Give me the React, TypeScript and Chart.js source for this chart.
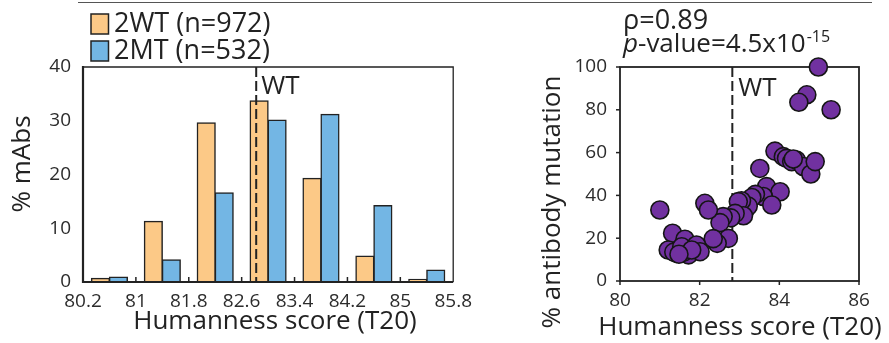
import React, { useEffect, useRef } from "react";
import { Chart, registerables } from "chart.js";

Chart.register(...registerables);

const FONT = "'Open Sans', 'Noto Sans', 'DejaVu Sans', sans-serif";
const ORANGE = "#FCC987";
const BLUE = "#73B6E4";
const PURPLE = "#7131A0";
const INK = "#222222";
const TICK_INK = "#2c2c2c";

// ---- Histogram data (left panel) ----
const binEdges = [80.2, 81, 81.8, 82.6, 83.4, 84.2, 85, 85.8];
const binCenters = [80.6, 81.4, 82.2, 83.0, 83.8, 84.6, 85.4];
const seriesLabels = ["2WT (n=972)", "2MT (n=532)"];
const wtPct = [0.7, 11.3, 29.6, 33.7, 19.3, 4.8, 0.5];
const mtPct = [0.9, 4.1, 16.6, 30.1, 31.2, 14.2, 2.2];
const histYTicks = [0, 10, 20, 30, 40];
const wtScore = 82.82;
const wtLabel = "WT";
const histXTitle = "Humanness score (T20)";
const histYTitle = "% mAbs";

// ---- Scatter data (right panel) ----
const scatterX = [
  84.98, 84.69, 84.49, 85.3, 83.89, 84.1, 84.18, 84.31, 84.43, 84.6, 84.79, 84.9,
  84.35, 83.51, 83.68, 84.02, 83.6, 83.81, 83.4, 83.31, 83.14, 83.22, 83.05, 82.97,
  83.1, 82.89, 82.78, 82.59, 82.51, 82.72, 82.44, 82.34, 82.13, 82.22, 81.0, 81.32,
  81.21, 81.42, 81.35, 81.63, 81.72, 81.6, 81.55, 81.92, 82.01, 81.8, 81.48,
];
const scatterY = [
  100, 87, 83.5, 80, 60.7, 58.1, 57.3, 55.8, 56.5, 53.5, 50, 55.8,
  57, 52.6, 44.1, 41.7, 39.5, 35.5, 40.5, 39, 33.2, 35, 37.5, 37.1,
  30.5, 31.6, 29.5, 30.1, 27.3, 19.9, 17.6, 19.8, 36.3, 33.2, 33.2, 22.3,
  14.5, 12.9, 13.5, 19.5, 12.2, 13.5, 16, 16.8, 13.7, 14.5, 12.5,
];
const scatterXTicks = [80, 82, 84, 86];
const scatterYTicks = [0, 20, 40, 60, 80, 100];
const rhoText = "ρ=0.89";
const pItalic = "p";
const pRest = "-value=4.5x10";
const pSup = "-15";
const scatterXTitle = "Humanness score (T20)";
const scatterYTitle = "% antibody mutation";

const tickFont = { family: FONT, size: 19 };

function HistChart() {
  const ref = useRef<HTMLCanvasElement | null>(null);
  useEffect(() => {
    if (!ref.current) return;
    const deco = {
      id: "histDeco",
      afterDraw(chart: any) {
        const { ctx, chartArea: a, scales } = chart;
        const xs = scales.x;
        ctx.save();
        ctx.strokeStyle = INK;
        ctx.lineWidth = 1.3;
        ctx.beginPath();
        ctx.moveTo(a.left, a.top);
        ctx.lineTo(a.right, a.top);
        ctx.lineTo(a.right, a.bottom);
        ctx.stroke();
        ctx.lineWidth = 2.2;
        ctx.beginPath();
        ctx.moveTo(a.left, a.top - 1);
        ctx.lineTo(a.left, a.bottom);
        ctx.lineTo(a.right, a.bottom);
        ctx.stroke();
        ctx.lineWidth = 1.5;
        binEdges.slice(1, -1).forEach((v) => {
          const px = xs.getPixelForValue(v);
          ctx.beginPath();
          ctx.moveTo(px, a.bottom);
          ctx.lineTo(px, a.bottom - 5);
          ctx.stroke();
        });
        const wx = xs.getPixelForValue(wtScore);
        ctx.setLineDash([10, 4]);
        ctx.lineWidth = 2;
        ctx.beginPath();
        ctx.moveTo(wx, a.top);
        ctx.lineTo(wx, a.bottom);
        ctx.stroke();
        ctx.setLineDash([]);
        ctx.fillStyle = INK;
        ctx.font = `26px ${FONT}`;
        ctx.textBaseline = "middle";
        ctx.textAlign = "left";
        ctx.fillText(wtLabel, wx + 5, a.top + 20);
        const colors = [ORANGE, BLUE];
        const rowsY = [24, 51];
        seriesLabels.forEach((lab, i) => {
          ctx.fillStyle = colors[i];
          ctx.fillRect(91, rowsY[i] - 10, 17.5, 20);
          ctx.strokeStyle = INK;
          ctx.lineWidth = 1.5;
          ctx.strokeRect(91, rowsY[i] - 10, 17.5, 20);
          ctx.fillStyle = INK;
          ctx.font = `27px ${FONT}`;
          ctx.textAlign = "left";
          ctx.textBaseline = "middle";
          ctx.fillText(lab, 114, rowsY[i]);
        });
        ctx.fillStyle = INK;
        ctx.font = `26px ${FONT}`;
        ctx.textAlign = "center";
        ctx.textBaseline = "middle";
        ctx.fillText(histXTitle, 275, 322);
        ctx.save();
        ctx.translate(23, 164);
        ctx.rotate(-Math.PI / 2);
        ctx.fillText(histYTitle, 0, 0);
        ctx.restore();
        ctx.restore();
      },
    };
    const chart = new Chart(ref.current, {
      type: "bar",
      data: {
        datasets: [
          {
            label: seriesLabels[0],
            data: binCenters.map((x, i) => ({ x, y: wtPct[i] })),
            backgroundColor: ORANGE,
            borderColor: INK,
            borderWidth: 1.5,
            borderSkipped: false,
            inflateAmount: 0.6,
            categoryPercentage: 0.68,
            barPercentage: 1,
          },
          {
            label: seriesLabels[1],
            data: binCenters.map((x, i) => ({ x, y: mtPct[i] })),
            backgroundColor: BLUE,
            borderColor: INK,
            borderWidth: 1.5,
            borderSkipped: false,
            inflateAmount: 0.6,
            categoryPercentage: 0.68,
            barPercentage: 1,
          },
        ],
      } as any,
      options: {
        animation: false,
        responsive: false,
        maintainAspectRatio: false,
        layout: { padding: { left: 0, right: 20, top: 67, bottom: 0 } },
        plugins: { legend: { display: false }, tooltip: { enabled: false } },
        scales: {
          x: {
            type: "linear",
            min: binEdges[0],
            max: binEdges[binEdges.length - 1],
            offset: false,
            afterBuildTicks: (s: any) => {
              s.ticks = binEdges.map((v) => ({ value: v }));
            },
            afterFit: (s: any) => {
              s.height = 61;
            },
            grid: { display: false, drawTicks: false, offset: false },
            border: { display: false },
            ticks: {
              padding: 8,
              font: tickFont,
              color: TICK_INK,
              autoSkip: false,
              maxRotation: 0,
              callback: (v: any) => `${v}`,
            },
          },
          y: {
            min: 0,
            max: 40,
            afterBuildTicks: (s: any) => {
              s.ticks = histYTicks.map((v) => ({ value: v }));
            },
            afterFit: (s: any) => {
              s.width = 83;
            },
            grid: { display: false, drawTicks: false },
            border: { display: false },
            ticks: { padding: 12, font: tickFont, color: TICK_INK },
          },
        },
      } as any,
      plugins: [deco],
    });
    return () => chart.destroy();
  }, []);
  return (
    <canvas
      ref={ref}
      width={480}
      height={343}
      style={{ position: "absolute", left: 0, top: 0, width: 480, height: 343 }}
    />
  );
}

function ScatterChart() {
  const ref = useRef<HTMLCanvasElement | null>(null);
  useEffect(() => {
    if (!ref.current) return;
    const deco = {
      id: "scatterDeco",
      beforeDatasetsDraw(chart: any) {
        const { ctx, chartArea: a, scales } = chart;
        const xs = scales.x;
        const ys = scales.y;
        ctx.save();
        ctx.strokeStyle = INK;
        ctx.lineWidth = 1.8;
        ctx.strokeRect(a.left, a.top, a.right - a.left, a.bottom - a.top);
        ctx.lineWidth = 1.5;
        scatterYTicks.forEach((v) => {
          const py = ys.getPixelForValue(v);
          ctx.beginPath();
          ctx.moveTo(a.left - 4, py);
          ctx.lineTo(a.left, py);
          ctx.stroke();
        });
        scatterXTicks.forEach((v) => {
          const px = xs.getPixelForValue(v);
          ctx.beginPath();
          ctx.moveTo(px, a.bottom);
          ctx.lineTo(px, a.bottom + 4);
          ctx.stroke();
        });
        const wx = xs.getPixelForValue(wtScore);
        ctx.setLineDash([10, 4]);
        ctx.lineWidth = 2;
        ctx.beginPath();
        ctx.moveTo(wx, a.top);
        ctx.lineTo(wx, a.bottom);
        ctx.stroke();
        ctx.setLineDash([]);
        ctx.fillStyle = INK;
        ctx.font = `26px ${FONT}`;
        ctx.textBaseline = "middle";
        ctx.textAlign = "left";
        ctx.fillText(wtLabel, wx + 6, a.top + 22);
        ctx.restore();
      },
      afterDraw(chart: any) {
        const { ctx } = chart;
        ctx.save();
        ctx.fillStyle = INK;
        ctx.textBaseline = "middle";
        ctx.textAlign = "left";
        ctx.font = `27px ${FONT}`;
        ctx.fillText(rhoText, 143, 21);
        ctx.font = `italic 26px ${FONT}`;
        ctx.fillText(pItalic, 143, 45);
        let x = 143 + ctx.measureText(pItalic).width;
        ctx.font = `26px ${FONT}`;
        ctx.fillText(pRest, x, 45);
        x += ctx.measureText(pRest).width;
        ctx.font = `16px ${FONT}`;
        ctx.fillText(pSup, x + 1, 37);
        ctx.font = `26px ${FONT}`;
        ctx.textAlign = "center";
        ctx.fillText(scatterXTitle, 260, 328);
        ctx.save();
        ctx.translate(73, 202);
        ctx.rotate(-Math.PI / 2);
        ctx.fillText(scatterYTitle, 0, 0);
        ctx.restore();
        ctx.restore();
      },
    };
    const chart = new Chart(ref.current, {
      type: "scatter",
      data: {
        datasets: [
          {
            data: scatterX.map((x, i) => ({ x, y: scatterY[i] })),
            backgroundColor: PURPLE,
            borderColor: "#151515",
            borderWidth: 1.6,
            pointRadius: 9,
            clip: false,
          },
        ],
      } as any,
      options: {
        animation: false,
        responsive: false,
        maintainAspectRatio: false,
        layout: { padding: { left: 0, right: 30, top: 67, bottom: 0 } },
        plugins: { legend: { display: false }, tooltip: { enabled: false } },
        scales: {
          x: {
            type: "linear",
            min: 80,
            max: 86,
            afterBuildTicks: (s: any) => {
              s.ticks = scatterXTicks.map((v) => ({ value: v }));
            },
            afterFit: (s: any) => {
              s.height = 62;
            },
            grid: { display: false, drawTicks: false },
            border: { display: false },
            ticks: { padding: 8, font: tickFont, color: TICK_INK, maxRotation: 0 },
          },
          y: {
            min: 0,
            max: 100,
            afterBuildTicks: (s: any) => {
              s.ticks = scatterYTicks.map((v) => ({ value: v }));
            },
            afterFit: (s: any) => {
              s.width = 140;
            },
            grid: { display: false, drawTicks: false },
            border: { display: false },
            ticks: { padding: 13, font: tickFont, color: TICK_INK },
          },
        },
      } as any,
      plugins: [deco],
    });
    return () => chart.destroy();
  }, []);
  return (
    <canvas
      ref={ref}
      width={409}
      height={343}
      style={{ position: "absolute", left: 480, top: 0, width: 409, height: 343 }}
    />
  );
}

export default function App() {
  return (
    <div
      style={{
        position: "absolute",
        left: 0,
        top: 0,
        width: 889,
        height: 343,
        background: "#ffffff",
        overflow: "hidden",
      }}
    >
      <div
        style={{
          position: "absolute",
          left: 78,
          top: 2,
          width: 794,
          height: 0,
          borderTop: "1.5px solid #555",
        }}
      />
      <HistChart />
      <ScatterChart />
    </div>
  );
}
